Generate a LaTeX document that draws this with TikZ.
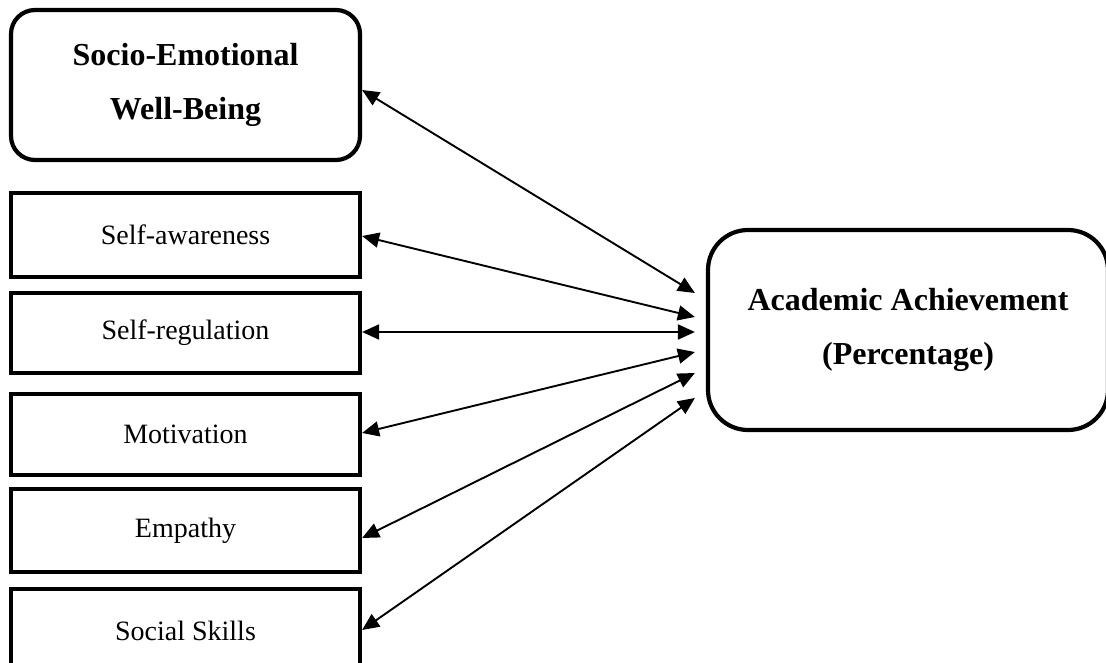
\documentclass[tikz,border=0pt]{standalone}
\usepackage{fontspec}
\setmainfont{Liberation Serif}
\usetikzlibrary{arrows.meta,positioning}

\tikzset{
  dimbox/.style={draw, line width=4.2pt, minimum width=349pt, inner sep=0pt,
    font=\fontsize{28}{33}\selectfont},
  mainbox/.style={draw, line width=4.2pt, align=center, inner sep=0pt,
    font=\bfseries\fontsize{32}{54}\selectfont},
  link/.style={{Triangle[length=17pt,width=15pt]}-{Triangle[length=17pt,width=15pt]},
    line width=1.9pt}
}

\begin{document}
\begin{tikzpicture}[x=1pt, y=-1pt]
  \useasboundingbox (0,0) rectangle (1106,663);

  % construct and its dimensions
  \node[mainbox, minimum width=349pt, minimum height=150pt, rounded corners=24pt]
    (sewb) at (185.5,85) {Socio-Emotional\\Well-Being};
  \node[dimbox, minimum height=84pt] (aware)  at (185.5,235)   {Self-awareness};
  \node[dimbox, minimum height=80pt] (regul)  at (185.5,333)   {Self-regulation};
  \node[dimbox, minimum height=81pt] (motiv)  at (185.5,434.5) {Motivation};
  \node[dimbox, minimum height=83pt] (empath) at (185.5,530.5) {Empathy};
  \node[dimbox, minimum height=84pt] (social) at (185.5,631)   {Social Skills};

  % outcome
  \node[mainbox, minimum width=400pt, minimum height=200pt, rounded corners=40pt]
    (achieve) at (908,330) {Academic Achievement\\(Percentage)};
  \coordinate (tip) at ([xshift=-11pt]achieve.west);

  \foreach \src/\ya/\yb in {sewb/90/293, aware/236/317, regul/332/332,
      motiv/433/352, empath/538/373, social/630/398}
    \draw[link] (\src.east |- 0,\ya) -- (tip |- 0,\yb);
\end{tikzpicture}
\end{document}
